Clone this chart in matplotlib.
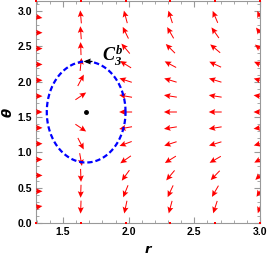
import numpy as np
import matplotlib
matplotlib.use("Agg")
import matplotlib.pyplot as plt
from matplotlib.ticker import MultipleLocator

plt.rcParams['mathtext.fontset'] = 'custom'
plt.rcParams['mathtext.rm'] = 'Liberation Serif:italic:bold'
plt.rcParams['mathtext.it'] = 'Liberation Serif:italic:bold'
plt.rcParams['mathtext.bf'] = 'Liberation Serif:italic:bold'

# grid of the vector field (6 columns in r, 15 rows in theta)
r_min, r_max = 1.294, 3.0
r_cols = np.linspace(r_min, r_max, 6)
theta_rows = np.arange(15) * np.pi / 14

# arrow directions on screen (degrees), rows k = 0..14, nan -> no arrow
ang_col1 = [np.nan, 10, 0, 0, 0, 0, 0, 0, 0, 0, 0, 0, 0, -10, np.nan]
ang_col2 = [np.nan, -92, -92, -88, -80, -63, -34, np.nan, 34, 62, 84, 92, 94, 95, np.nan]
ang_col3 = [np.nan, 258, 248, 234, 215, 200, 190, 180, 170, 162, 148, 130, 116, 105, np.nan]
ang_col4 = [np.nan, 255, 245, 230, 212, 198, 189, 180, 171, 163, 152, 135, 120, 108, np.nan]
ang_col5 = [np.nan, 252, 240, 226, 210, 197, 189, 180, 171, 163, 155, 140, 125, 113, np.nan]
ang_col6 = [np.nan, 250, 238, 224, 208, 196, 188, 180, 172, 164, 156, 142, 128, 115, np.nan]
angles = [ang_col1, ang_col2, ang_col3, ang_col4, ang_col5, ang_col6]

# light ring and contour C_3^b
lr_r, lr_theta = 1.676, np.pi / 2
ell_a, ell_b = 0.30, 0.715

fig = plt.figure(figsize=(2.68, 2.59), dpi=100)
ax = fig.add_axes([36 / 268, 1 - 223 / 259, 224 / 268, 222 / 259])

R, T = np.meshgrid(r_cols, theta_rows, indexing='ij')
A = np.deg2rad(np.array(angles, dtype=float))
U, V = np.cos(A), np.sin(A)
ax.quiver(R, T, U, V, angles='uv', pivot='mid', units='dots', scale_units='dots',
          scale=1 / 13, width=1.0, headwidth=6, headlength=6.5, headaxislength=5.5,
          color='red', zorder=3)

# zero vectors at theta = 0 and pi
for k in (0, 14):
    ax.scatter(r_cols, np.full(6, theta_rows[k]), marker='s', s=4, color='red',
               zorder=3, clip_on=False, linewidths=0)

t = np.linspace(0, 2 * np.pi, 300)
ax.plot(lr_r + ell_a * np.cos(t), lr_theta + ell_b * np.sin(t), color='#0000ff',
        lw=1.6, dashes=(2.4, 1.3), zorder=4)
ax.quiver([1.69], [lr_theta + ell_b], [-1], [0], angles='uv', pivot='mid',
          units='dots', scale_units='dots', scale=1 / 9, width=1.2, headwidth=5,
          headlength=6, headaxislength=5.5, color='black', zorder=5)
ax.plot([lr_r], [lr_theta], 'o', color='black', ms=2.5, zorder=5)
ax.text(1.80, 2.28, r'$C_3^b$', fontsize=13, color='black', ha='left', va='baseline')

ax.set_xlim(r_min, r_max)
ax.set_ylim(0, np.pi)
ax.xaxis.set_major_locator(MultipleLocator(0.5))
ax.xaxis.set_minor_locator(MultipleLocator(0.1))
ax.yaxis.set_major_locator(MultipleLocator(0.5))
ax.yaxis.set_minor_locator(MultipleLocator(0.1))
ax.tick_params(which='both', direction='in', top=True, right=True, color='#999999',
               labelsize=7.5, pad=3)
ax.tick_params(which='major', length=4, width=0.8)
ax.tick_params(which='minor', length=2, width=0.6)
for lab in ax.get_xticklabels() + ax.get_yticklabels():
    lab.set_fontweight('bold')
    lab.set_fontfamily('Liberation Sans')
for s in ax.spines.values():
    s.set_color('#999999')
    s.set_linewidth(0.8)

ax.set_xlabel('r', fontsize=9.5, fontweight='bold', fontstyle='italic', labelpad=4)
ax.set_ylabel('θ', fontsize=9.5, fontweight='bold', fontstyle='italic', labelpad=2)

fig.savefig('out.png', dpi=100)
